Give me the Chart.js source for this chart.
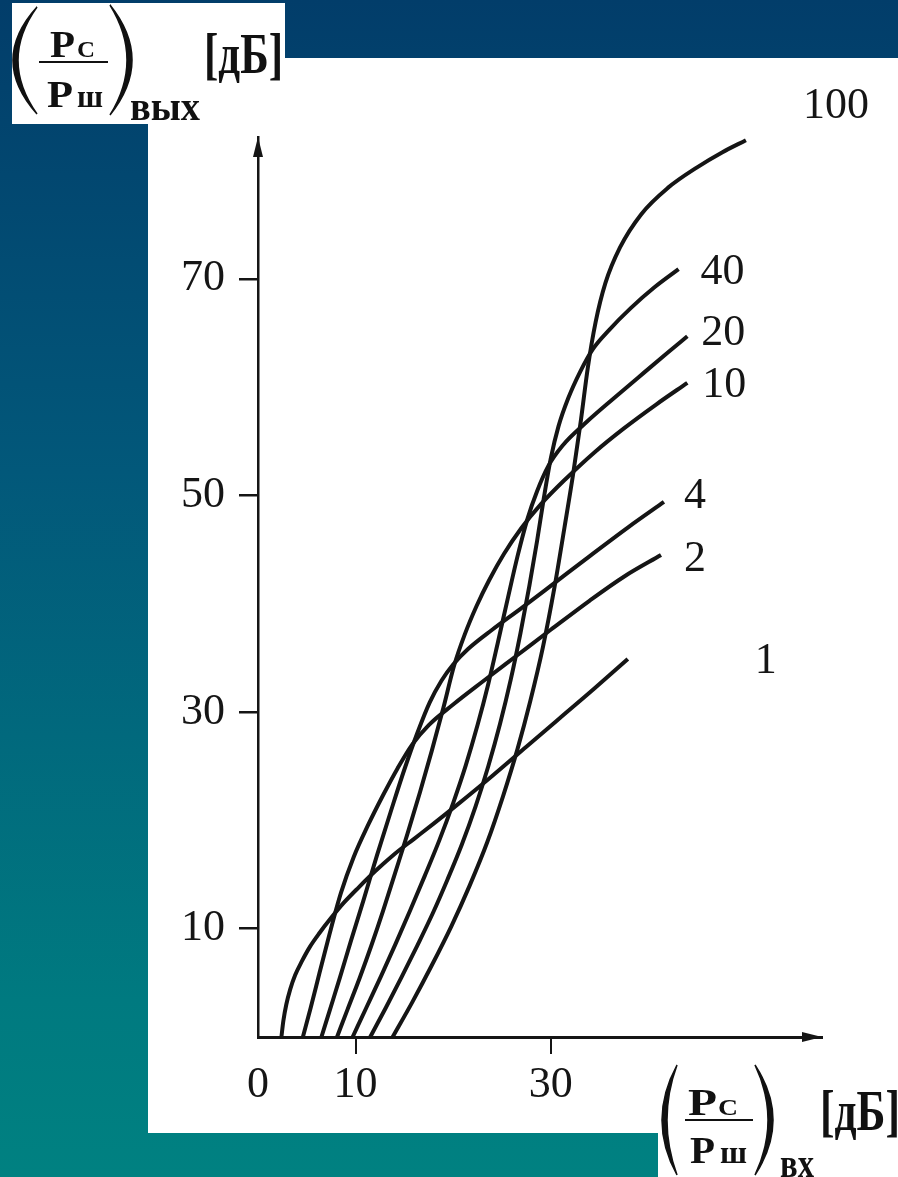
<!DOCTYPE html>
<html>
<head>
<meta charset="utf-8">
<script src="https://cdn.jsdelivr.net/npm/chart.js@4.4.1/dist/chart.umd.min.js"></script>
<style>
  html, body { margin: 0; padding: 0; }
  body {
    width: 898px; height: 1177px; overflow: hidden; position: relative;
    background: linear-gradient(180deg, #023d6a 0%, #02587a 40%, #007a80 85%, #008181 100%);
  }
  .panel { position: absolute; background: #fff; }
  #chartBox { position: absolute; left: 0; top: 0; width: 898px; height: 1177px; }
  svg.formula { position: absolute; left: 0; top: 0; pointer-events: none; }
</style>
</head>
<body>
<div class="panel" style="left:148px;top:58px;width:750px;height:1075px"></div>
<div class="panel" style="left:12px;top:3px;width:273px;height:121px"></div>
<div class="panel" style="left:658px;top:1068px;width:240px;height:109px"></div>

<div id="chartBox"><canvas id="chart" width="898" height="1177"></canvas></div>

<svg class="formula" width="898" height="1177" font-family="'Liberation Serif', serif" font-weight="bold" fill="#111">
  <!-- (Pc/Pш) вых [дБ] -->
  <path d="M37,7 Q-11,60 37,114 Q-1,60 37,7 Z" stroke="#111" stroke-width="1.5"/>
  <path d="M110,5 Q154,60 110,115 Q144,60 110,5 Z" stroke="#111" stroke-width="1.5"/>
  <text x="50" y="57" font-size="38" textLength="25" lengthAdjust="spacingAndGlyphs">P</text>
  <text x="77" y="57" font-size="23" textLength="18" lengthAdjust="spacingAndGlyphs">С</text>
  <line x1="39" y1="62" x2="108" y2="62" stroke="#111" stroke-width="2"/>
  <text x="47" y="107" font-size="38" textLength="26" lengthAdjust="spacingAndGlyphs">P</text>
  <text x="77" y="107" font-size="31" textLength="26" lengthAdjust="spacingAndGlyphs">ш</text>
  <text x="130" y="120" font-size="40" textLength="70" lengthAdjust="spacingAndGlyphs">вых</text>
  <text x="204" y="73" font-size="56" textLength="79" lengthAdjust="spacingAndGlyphs">[дБ]</text>

  <!-- (Pc/Pш) вх [дБ] -->
  <path d="M677,1065 Q647,1120 677,1175 Q657,1120 677,1065 Z" stroke="#111" stroke-width="1.5"/>
  <path d="M755,1065 Q791,1120 755,1175 Q781,1120 755,1065 Z" stroke="#111" stroke-width="1.5"/>
  <text x="688" y="1115" font-size="38" textLength="29" lengthAdjust="spacingAndGlyphs">P</text>
  <text x="718" y="1115" font-size="23" textLength="20" lengthAdjust="spacingAndGlyphs">С</text>
  <line x1="685" y1="1120" x2="753" y2="1120" stroke="#111" stroke-width="2"/>
  <text x="690" y="1163" font-size="38" textLength="25" lengthAdjust="spacingAndGlyphs">P</text>
  <text x="720" y="1163" font-size="31" textLength="27" lengthAdjust="spacingAndGlyphs">ш</text>
  <text x="780" y="1177" font-size="40" textLength="34" lengthAdjust="spacingAndGlyphs">вх</text>
  <text x="820" y="1130" font-size="56" textLength="80" lengthAdjust="spacingAndGlyphs">[дБ]</text>
</svg>

<script>
// modulation index for each curve
const beta = ['1', '2', '4', '10', '20', '40', '100'];

const xTicks = [0, 10, 30];
const yTicks = [10, 30, 50, 70];

// input SNR (dB) / output SNR (dB)
const in1  = [2.4, 2.6, 2.9, 3.3, 3.8, 4.5, 5.3, 6.3, 7.5, 8.8, 10.3, 12, 14, 16, 18, 20.5, 24, 27.5, 31, 34.5, 37.9];
const out1 = [0, 1.5, 3, 4.4, 5.7, 7, 8.3, 9.6, 11, 12.4, 13.8, 15.3, 16.9, 18.3, 19.7, 21.5, 24.1, 26.8, 29.5, 32.2, 34.9];

const in2  = [4.6, 5.4, 6.3, 7.3, 8.5, 9.8, 11.3, 12.8, 14.3, 15.8, 17.5, 20, 23, 26.5, 30, 34, 37.5, 41.3];
const out2 = [0, 2.7, 5.9, 9.4, 13.3, 16.6, 19.6, 22.3, 24.8, 27, 28.8, 30.7, 32.8, 35.2, 37.6, 40.3, 42.5, 44.5];

const in4  = [6.5, 7.4, 8.4, 9.5, 10.8, 12.2, 13.6, 15, 16.3, 17.6, 18.8, 20, 21.5, 24, 27, 30.5, 34, 38, 41.6];
const out4 = [0, 2.6, 5.5, 8.8, 12.6, 16.8, 20.8, 24.7, 28, 30.9, 32.9, 34.4, 35.8, 37.6, 39.6, 42, 44.4, 47.1, 49.4];

const in10  = [8.1, 9.2, 10.4, 11.6, 12.8, 14, 15.3, 16.6, 17.8, 19, 20.1, 21.2, 22.4, 23.7, 25.2, 27, 29, 31.5, 34.5, 37.5, 40.8, 44];
const out10 = [0, 2.6, 5.4, 8.4, 11.6, 15, 18.7, 22.6, 26.4, 30.4, 34.3, 37.2, 39.8, 42.2, 44.6, 47, 49.2, 51.5, 54, 56.2, 58.4, 60.4];

const in20  = [9.7, 11.1, 12.6, 14.1, 15.6, 17.1, 18.6, 20, 21.3, 22.5, 23.6, 24.6, 25.6, 26.6, 27.6, 28.6, 29.8, 31.2, 33.7, 36.5, 39.5, 42, 44];
const out20 = [0, 2.7, 5.6, 8.6, 11.7, 14.9, 18.2, 21.6, 25.1, 28.8, 32.6, 36.5, 40.5, 44.4, 47.8, 50.4, 52.8, 54.6, 56.8, 59, 61.3, 63.2, 64.7];

const in40  = [11.5, 13.1, 14.7, 16.3, 17.9, 19.4, 20.9, 22.3, 23.6, 24.8, 25.9, 26.9, 27.8, 28.6, 29.3, 30, 30.8, 31.8, 33, 34.3, 36, 38.2, 40.6, 43.1];
const out40 = [0, 2.7, 5.5, 8.4, 11.4, 14.5, 17.8, 21.3, 25, 28.9, 33, 37.3, 41.6, 45.8, 49.8, 53.4, 56.4, 59, 61.4, 63.5, 65.3, 67.3, 69.2, 70.9];

const in100  = [13.8, 15.8, 17.8, 19.8, 21.7, 23.5, 25.1, 26.6, 27.9, 29.2, 30.4, 31.4, 32.3, 33.1, 33.8, 34.6, 35.6, 37.1, 39.3, 42, 45, 47.6, 50];
const out100 = [0, 3.2, 6.6, 10.2, 14, 18, 22.2, 26.6, 31, 36, 41.6, 47, 52, 57, 61.8, 66, 69.6, 72.9, 76, 78.4, 80.3, 81.7, 82.8];

const inputs  = [in1, in2, in4, in10, in20, in40, in100];
const outputs = [out1, out2, out4, out10, out20, out40, out100];

// where each curve label sits relative to the curve end (px)
const labelOffset = [[138, 2], [34, 4], [31, -6], [37, 3], [36, -3], [44, 3], [90, -34]];

const ink = '#151515';
const serif = "'Liberation Serif', 'Times New Roman', serif";

const datasets = beta.map((b, i) => ({
  label: b,
  data: inputs[i].map((x, j) => ({ x: x, y: outputs[i][j] })),
  showLine: true,
  borderColor: ink,
  borderWidth: 4,
  pointRadius: 0,
  cubicInterpolationMode: 'monotone',
  clip: false
}));

const curveLabels = {
  id: 'curveLabels',
  afterDatasetsDraw(chart) {
    const ctx = chart.ctx;
    ctx.save();
    ctx.font = '44px ' + serif;
    ctx.fillStyle = ink;
    ctx.textAlign = 'center';
    ctx.textBaseline = 'middle';
    chart.data.datasets.forEach((ds, i) => {
      const pts = chart.getDatasetMeta(i).data;
      const p = pts[pts.length - 1];
      ctx.fillText(ds.label, p.x + labelOffset[i][0], p.y + labelOffset[i][1]);
    });
    ctx.restore();
  }
};

const axisArrows = {
  id: 'axisArrows',
  afterDraw(chart) {
    const ctx = chart.ctx;
    const a = chart.chartArea;
    ctx.save();
    ctx.fillStyle = ink;
    ctx.beginPath();
    ctx.moveTo(a.left, a.top);
    ctx.lineTo(a.left - 5, a.top + 20);
    ctx.lineTo(a.left + 5, a.top + 20);
    ctx.closePath();
    ctx.fill();
    ctx.beginPath();
    ctx.moveTo(a.right, a.bottom);
    ctx.lineTo(a.right - 20, a.bottom - 5);
    ctx.lineTo(a.right - 20, a.bottom + 5);
    ctx.closePath();
    ctx.fill();
    ctx.restore();
  }
};

new Chart(document.getElementById('chart').getContext('2d'), {
  type: 'scatter',
  data: { datasets: datasets },
  options: {
    responsive: false,
    animation: false,
    layout: { padding: { left: 0, right: 76, top: 137, bottom: 0 } },
    plugins: { legend: { display: false }, tooltip: { enabled: false } },
    scales: {
      x: {
        type: 'linear', min: 0, max: 57.8,
        afterBuildTicks: s => { s.ticks = xTicks.map(v => ({ value: v })); },
        afterFit: s => { s.height = 140; },
        grid: {
          drawOnChartArea: false, tickLength: 17, lineWidth: 2,
          color: c => (c.tick && c.tick.value === 0) ? 'rgba(0,0,0,0)' : ink
        },
        border: { color: ink, width: 3 },
        ticks: { font: { family: serif, size: 44 }, color: ink, padding: 5, maxRotation: 0 }
      },
      y: {
        type: 'linear', min: 0, max: 83.1,
        afterBuildTicks: s => { s.ticks = yTicks.map(v => ({ value: v })); },
        afterFit: s => { s.width = 258; },
        grid: { drawOnChartArea: false, tickLength: 19, lineWidth: 2.5, color: ink },
        border: { color: ink, width: 2.5 },
        ticks: { font: { family: serif, size: 44 }, color: ink, padding: 14 }
      }
    }
  },
  plugins: [curveLabels, axisArrows]
});
</script>
</body>
</html>
